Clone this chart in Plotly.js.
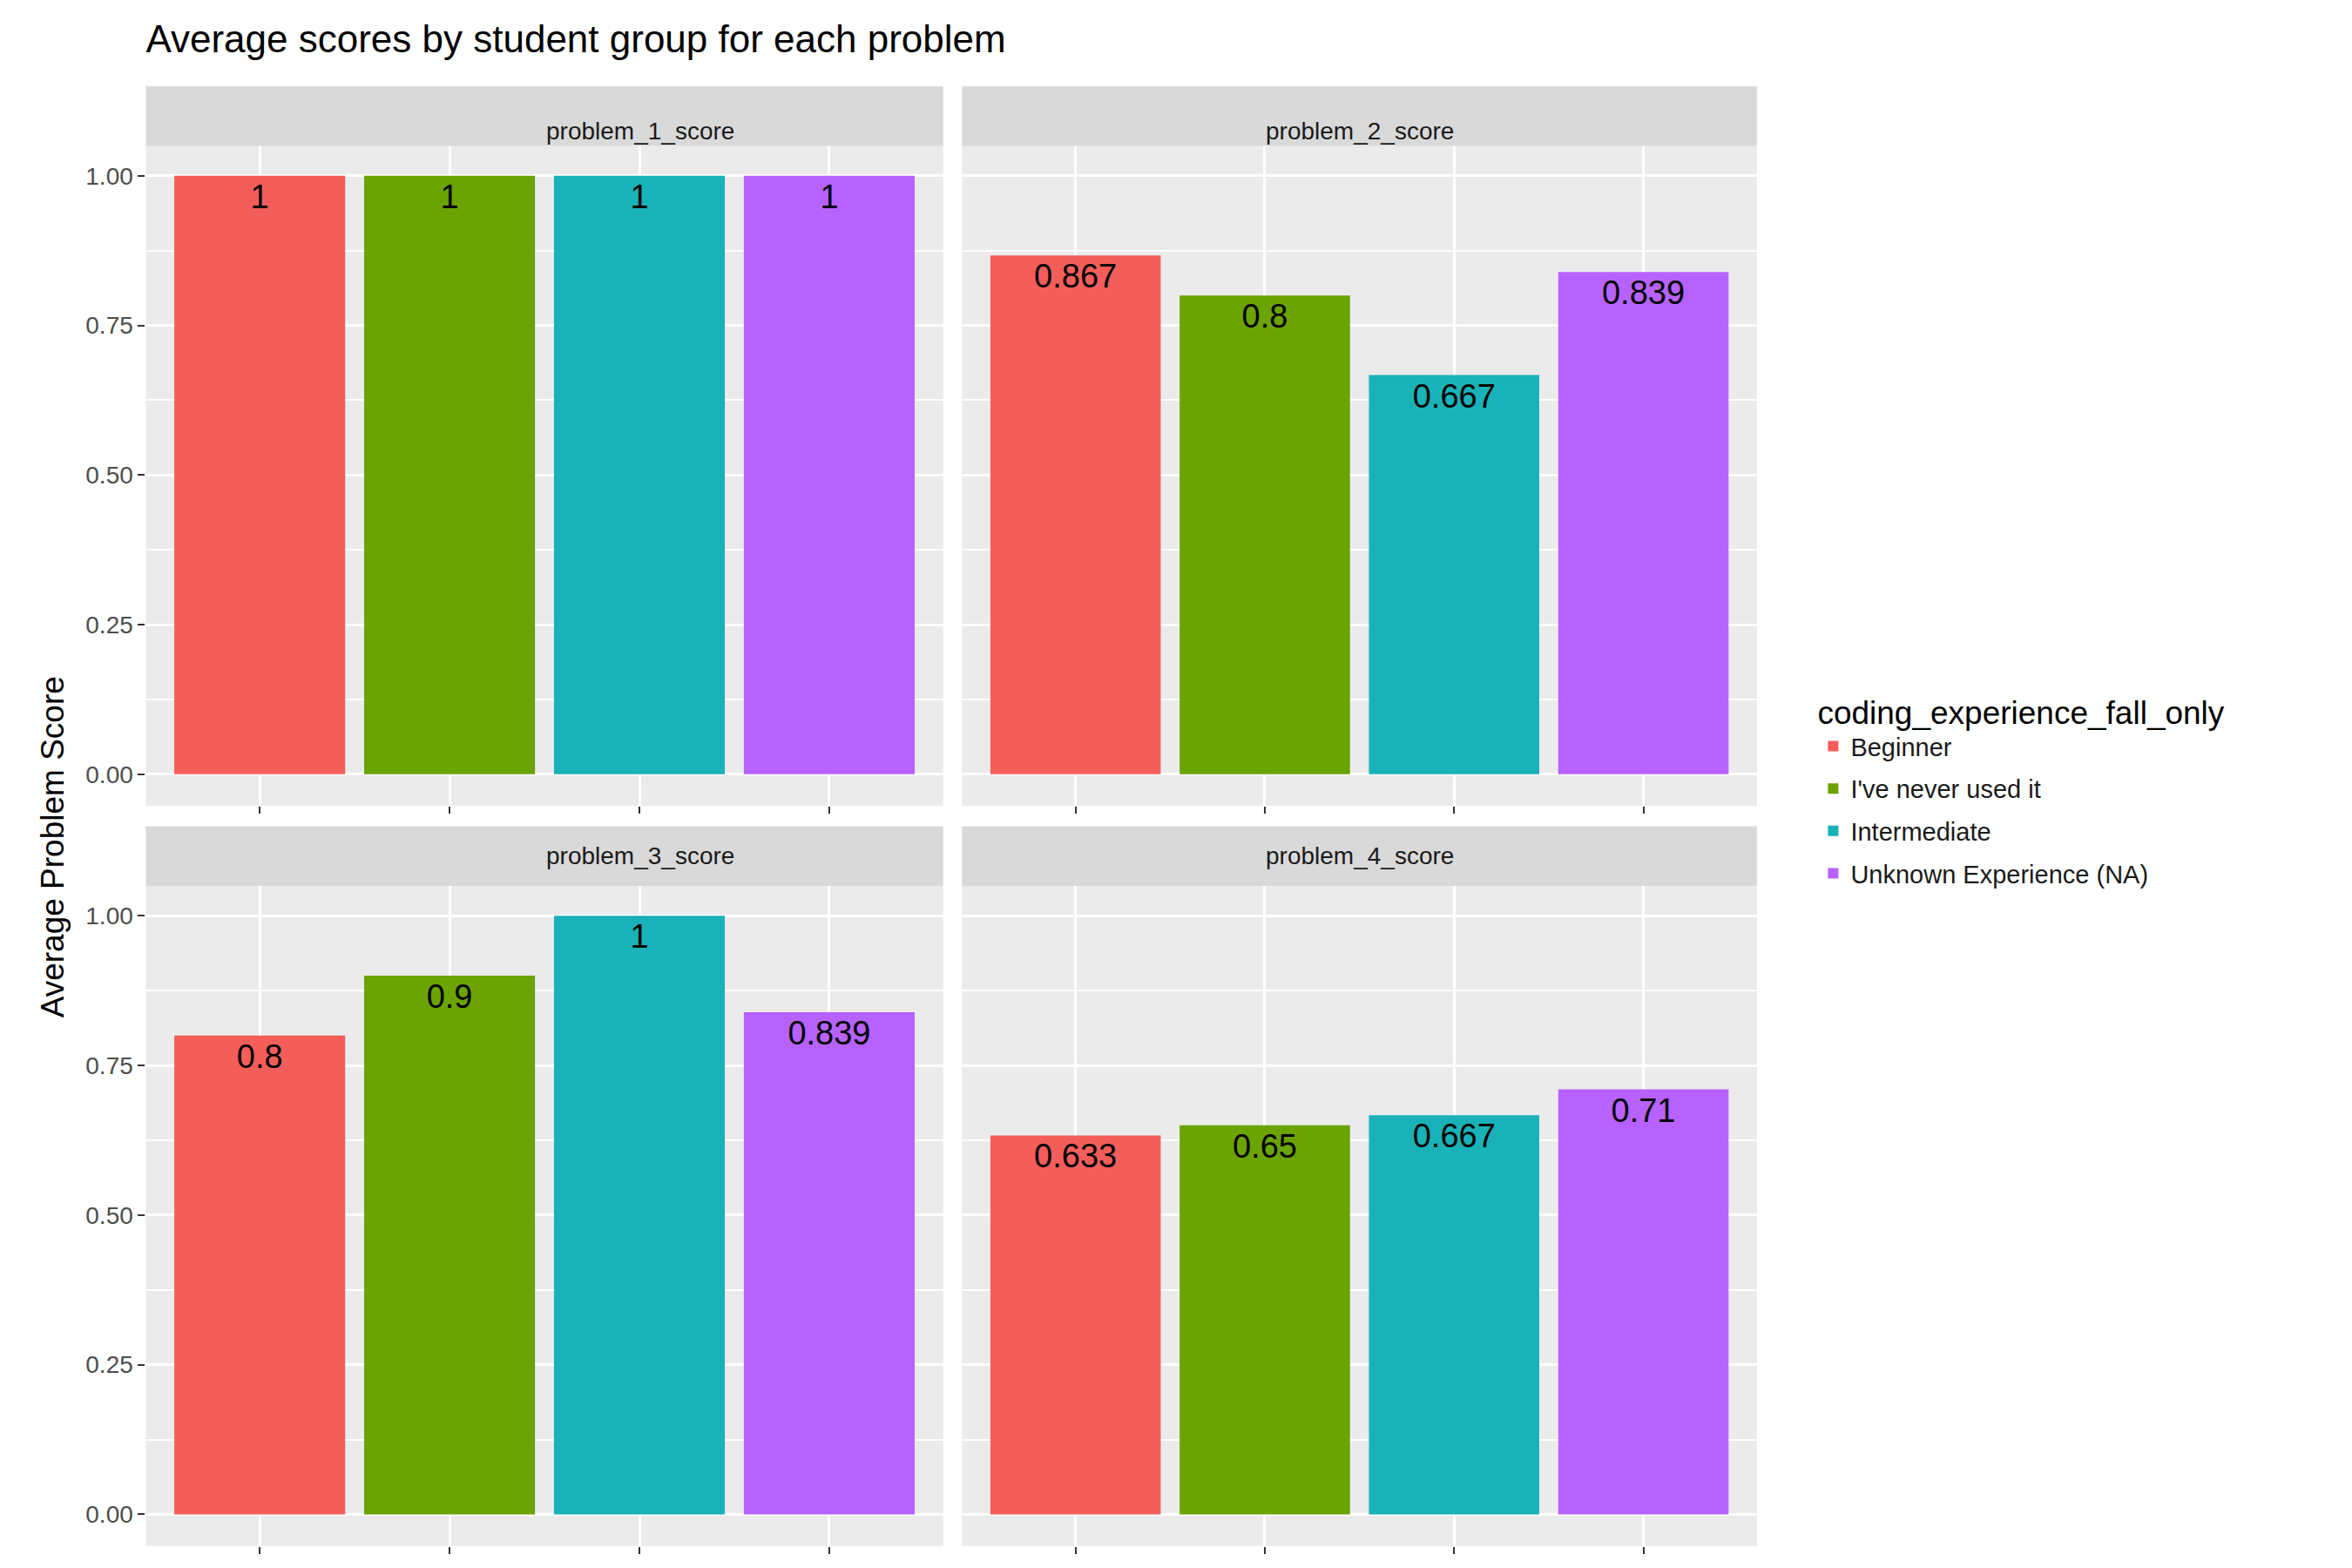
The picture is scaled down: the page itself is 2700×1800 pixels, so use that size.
<!DOCTYPE html>
<html><head><meta charset="utf-8">
<script src="https://cdn.plot.ly/plotly-3.0.1.min.js"></script>
<style>body{margin:0}</style></head><body>
<div id="c" style="width:2700px;height:1800px"></div>
<script>
const groups = ["Beginner","I've never used it","Intermediate","Unknown Experience (NA)"];
const problems = ["problem_1_score","problem_2_score","problem_3_score","problem_4_score"];
const p1 = [1,1,1,1];
const p2 = [0.867,0.8,0.667,0.839];
const p3 = [0.8,0.9,1,0.839];
const p4 = [0.633,0.65,0.667,0.71];
const values = [p1,p2,p3,p4];
const colors = ["#F35E5A","#6BA300","#19B2B8","#B762FF"];

const F = "Liberation Sans, Arial, sans-serif";
const xd = [[0.062,0.401],[0.409,0.747]];
const yd = [[0.486,0.907],[0.014,0.435]];
const traces = [];
values.forEach((vals,p)=>{
  const ax = p===0?'':String(p+1);
  groups.forEach((g,i)=>{
    traces.push({type:'bar', x:[i], y:[vals[i]], name:g, legendgroup:g,
      showlegend:p===0, marker:{color:colors[i]}, width:0.9,
      text:[String(vals[i])], textposition:'inside', insidetextanchor:'end',
      textfont:{family:F,size:38,color:'#000'}, constraintext:'none',
      hoverinfo:'x+y', xaxis:'x'+ax, yaxis:'y'+ax});
  });
});
const layout = {width:2700,height:1800,margin:{l:0,r:0,t:0,b:0},
  paper_bgcolor:'#fff', plot_bgcolor:'#EBEBEB', barmode:'overlay',
  font:{family:F,color:'#4D4D4D'},
  title:{text:'Average scores by student group for each problem',x:0.062,xanchor:'left',y:0.975,yanchor:'middle',font:{family:F,size:44,color:'#000'}},
  legend:{x:0.772,xanchor:'left',y:0.565,yanchor:'top',title:{text:'coding_experience_fall_only',font:{family:F,size:37,color:'#000'}},
    font:{family:F,size:29,color:'#1a1a1a'},tracegroupgap:8,itemsizing:'constant'},
  shapes:[], annotations:[
    {text:'Average Problem Score',textangle:-90,xref:'paper',yref:'paper',x:0.014,y:0.46,showarrow:false,font:{family:F,size:37,color:'#000'}}
  ]};
for(let p=0;p<4;p++){
  const c=p%2, r=Math.floor(p/2), ax=p===0?'':String(p+1);
  layout['xaxis'+ax]={domain:xd[c],anchor:'y'+ax,range:[-0.6,3.6],showticklabels:false,
    ticks:'outside',tickcolor:'#333',ticklen:8,tickwidth:2,tickvals:[0,1,2,3],
    showgrid:true,gridcolor:'#fff',gridwidth:3,zeroline:false,fixedrange:true};
  layout['yaxis'+ax]={domain:yd[r],anchor:'x'+ax,range:[-0.053,1.05],
    tickvals:[0,0.25,0.5,0.75,1],ticktext:['0.00','0.25','0.50','0.75','1.00'],
    showticklabels:c===0,ticks:c===0?'outside':'',tickcolor:'#333',ticklen:8,tickwidth:2,
    tickfont:{family:F,size:28,color:'#4D4D4D'},
    showgrid:true,gridcolor:'#fff',gridwidth:3,zeroline:false,
    minor:{tickvals:[0.125,0.375,0.625,0.875],showgrid:true,gridcolor:'#fff',gridwidth:1.5,ticks:''}};
  const yt=yd[r][1], st=yt+0.038;
  layout.shapes.push({type:'rect',xref:'paper',yref:'paper',x0:xd[c][0],x1:xd[c][1],y0:yt,y1:st,fillcolor:'#D9D9D9',line:{width:0}});
  layout.annotations.push({text:problems[p],xref:'paper',yref:'paper',x:(xd[c][0]+xd[c][1])/2,y:(yt+st)/2,showarrow:false,font:{family:F,size:28,color:'#1a1a1a'}});
}
Plotly.newPlot('c',traces,layout,{displayModeBar:false});
</script></body></html>
